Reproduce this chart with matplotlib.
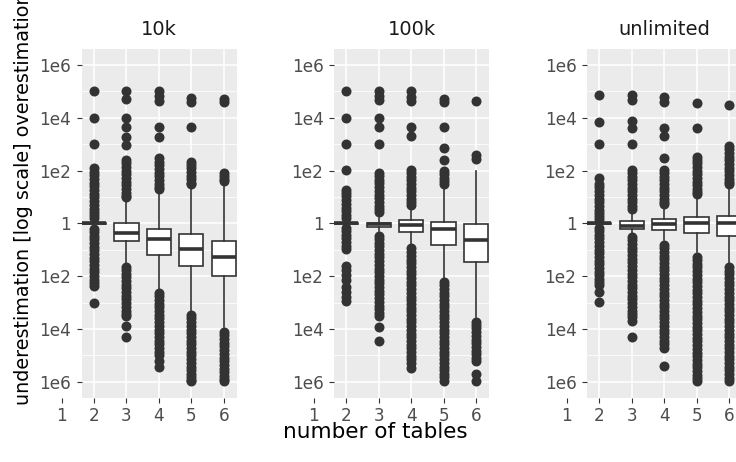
import matplotlib
matplotlib.use("Agg")
import numpy as np
import matplotlib.pyplot as plt
from matplotlib.ticker import FixedLocator, NullLocator, NullFormatter
from matplotlib.transforms import blended_transform_factory

# ---------------- data (log10 of estimate ratio) ----------------
panels = ["10k", "100k", "unlimited"]
table_counts = [2, 3, 4, 5, 6]
x_ticks = [1, 2, 3, 4, 5, 6]
y_tick_exp = [6, 4, 2, 0, -2, -4, -6]
y_tick_labels = ["1e6", "1e4", "1e2", "1", "1e2", "1e4", "1e6"]
y_minor_exp = [5, 3, 1, -1, -3, -5]

# (whislo, q1, med, q3, whishi) per table count
stats_10k = [(-0.03, -0.03, 0.0, 0.03, 0.03),
             (-1.5, -0.68, -0.38, 0.0, 0.85),
             (-2.48, -1.18, -0.6, -0.21, 1.15),
             (-3.3, -1.6, -0.97, -0.39, 1.32),
             (-3.94, -2.0, -1.27, -0.65, 1.45)]
stats_100k = [(-0.03, -0.03, 0.0, 0.03, 0.03),
              (-0.3, -0.12, -0.04, 0.03, 0.2),
              (-0.8, -0.32, -0.08, 0.14, 0.5),
              (-2.05, -0.82, -0.22, 0.07, 1.3),
              (-3.56, -1.48, -0.62, -0.04, 2.0)]
stats_unl = [(-0.03, -0.03, 0.0, 0.03, 0.03),
             (-0.35, -0.2, -0.09, 0.1, 0.35),
             (-0.62, -0.24, -0.04, 0.18, 0.55),
             (-1.08, -0.35, 0.01, 0.24, 0.95),
             (-1.5, -0.49, 0.01, 0.27, 1.3)]

fliers_10k = [
    [5.0, 4.0, 3.0, 2.1, 1.96, 1.82, 1.68, 1.54, 1.4, 1.26, 1.12, 0.98, 0.84, 0.7, 0.56, 0.42, 0.3, 0.2,
     -0.2, -0.32, -0.46, -0.6, -0.74, -0.88, -1.02, -1.16, -1.3, -1.44, -1.58, -1.72, -1.86, -2.0, -2.14,
     -2.26, -2.36, -3.0],
    [5.0, 4.72, 4.0, 3.65, 3.25, 2.98, 2.4, 2.28, 2.14, 2.0, 1.86, 1.72, 1.58, 1.44, 1.3, 1.16, 1.04, 0.98,
     -1.64, -1.76, -1.9, -2.04, -2.18, -2.32, -2.46, -2.6, -2.74, -2.88, -3.02, -3.16, -3.3, -3.42, -3.5,
     -3.87, -4.32],
    [5.0, 4.82, 4.64, 3.66, 3.28, 2.46, 2.34, 2.2, 2.06, 1.92, 1.78, 1.64, 1.5, 1.38, 1.3,
     -2.64, -2.76, -2.9, -3.04, -3.18, -3.32, -3.46, -3.6, -3.74, -3.88, -4.02, -4.16, -4.3, -4.44, -4.58,
     -4.72, -4.86, -4.98, -5.2, -5.45],
    [4.75, 4.6, 3.66, 2.34, 2.22, 2.08, 1.94, 1.8, 1.66, 1.54, 1.5,
     -3.48, -3.6, -3.74, -3.88, -4.02, -4.16, -4.3, -4.44, -4.58, -4.72, -4.86, -5.0, -5.14, -5.28,
     -5.42, -5.56, -5.7, -5.82, -5.92, -5.98],
    [4.72, 4.58, 1.9, 1.78, 1.66, 1.62,
     -4.12, -4.24, -4.38, -4.52, -4.66, -4.8, -4.94, -5.08, -5.22, -5.36, -5.5, -5.64, -5.78, -5.9, -5.98],
]
fliers_100k = [
    [5.0, 4.0, 3.0, 2.01, 1.28, 1.16, 1.02, 0.88, 0.74, 0.6, 0.46, 0.32, 0.2,
     -0.18, -0.3, -0.43, -0.57, -0.71, -0.85, -0.98,
     -1.62, -1.76, -1.95, -2.15, -2.42, -2.6, -2.8, -2.95],
    [5.0, 4.82, 4.68, 4.0, 3.66, 3.0, 1.9, 1.78, 1.65, 1.51, 1.37, 1.23, 1.09, 0.95, 0.81, 0.67, 0.55, 0.42,
     -0.48, -0.6, -0.73, -0.87, -1.01, -1.15, -1.29, -1.43, -1.57, -1.71, -1.85, -1.99, -2.13, -2.27,
     -2.41, -2.55, -2.69, -2.83, -2.97, -3.11, -3.25, -3.38, -3.5, -3.94, -4.44],
    [5.0, 4.8, 4.62, 3.66, 3.3, 2.02, 1.9, 1.77, 1.63, 1.49, 1.35, 1.21, 1.07, 0.93, 0.8, 0.7,
     -0.95, -1.09, -1.23, -1.37, -1.51, -1.65, -1.79, -1.93, -2.07, -2.21, -2.35, -2.49, -2.63, -2.77,
     -2.91, -3.05, -3.19, -3.33, -3.47, -3.61, -3.75, -3.89, -4.03, -4.17, -4.31, -4.45, -4.59, -4.73,
     -4.87, -5.01, -5.15, -5.3, -5.48],
    [4.7, 4.58, 3.66, 2.84, 2.39, 1.98, 1.86, 1.72, 1.6, 1.5,
     -2.22, -2.34, -2.48, -2.62, -2.76, -2.9, -3.04, -3.18, -3.32, -3.46, -3.6, -3.74, -3.88, -4.02,
     -4.16, -4.3, -4.44, -4.58, -4.72, -4.86, -5.0, -5.14, -5.28, -5.42, -5.56, -5.7, -5.82, -5.95],
    [4.65, 2.6, 2.45,
     -3.72, -3.84, -3.98, -4.12, -4.26, -4.4, -4.54, -4.68, -4.82, -4.96, -5.1, -5.22, -5.72, -5.98],
]
fliers_unl = [
    [4.87, 3.85, 3.0, 1.72, 1.5, 1.36, 1.22, 1.08, 0.94, 0.8, 0.66, 0.52, 0.38, 0.26, 0.18,
     -0.18, -0.29, -0.43, -0.57, -0.71, -0.85, -0.99, -1.13, -1.27, -1.41, -1.55, -1.69, -1.83, -1.97,
     -2.11, -2.22, -2.32, -2.6, -2.98],
    [4.87, 4.67, 3.87, 3.62, 3.0, 2.02, 1.9, 1.77, 1.63, 1.49, 1.35, 1.21, 1.07, 0.93, 0.79, 0.67, 0.56,
     -0.52, -0.64, -0.78, -0.92, -1.06, -1.2, -1.34, -1.48, -1.62, -1.76, -1.9, -2.04, -2.18, -2.32, -2.46,
     -2.6, -2.74, -2.88, -3.02, -3.16, -3.3, -3.44, -3.56, -3.68, -4.29],
    [4.8, 4.6, 3.6, 3.3, 2.46, 2.02, 1.9, 1.77, 1.63, 1.49, 1.35, 1.21, 1.07, 0.93, 0.8, 0.72,
     -0.82, -0.94, -1.08, -1.22, -1.36, -1.5, -1.64, -1.78, -1.92, -2.06, -2.2, -2.34, -2.48, -2.62,
     -2.76, -2.9, -3.04, -3.18, -3.32, -3.46, -3.6, -3.74, -3.88, -4.02, -4.16, -4.3, -4.44, -4.56,
     -4.7, -5.39],
    [4.54, 3.6, 2.52, 2.4, 2.28, 2.14, 2.0, 1.86, 1.72, 1.58, 1.44, 1.3, 1.18, 1.12,
     -1.27, -1.39, -1.53, -1.67, -1.81, -1.95, -2.09, -2.23, -2.37, -2.51, -2.65, -2.79, -2.93, -3.07,
     -3.21, -3.35, -3.49, -3.63, -3.77, -3.91, -4.05, -4.19, -4.33, -4.47, -4.61, -4.75, -4.89, -5.03,
     -5.17, -5.31, -5.45, -5.59, -5.73, -5.85, -5.96],
    [4.48, 2.92, 2.8, 2.67, 2.53, 2.39, 2.25, 2.11, 1.97, 1.83, 1.69, 1.58, 1.5,
     -1.67, -1.79, -1.93, -2.07, -2.21, -2.35, -2.49, -2.63, -2.77, -2.91, -3.05, -3.19, -3.33, -3.47,
     -3.61, -3.75, -3.89, -4.03, -4.17, -4.31, -4.45, -4.59, -4.73, -4.87, -5.01, -5.15, -5.29, -5.43,
     -5.57, -5.71, -5.85, -5.96],
]

all_stats = [stats_10k, stats_100k, stats_unl]
all_fliers = [fliers_10k, fliers_100k, fliers_unl]

# ---------------- style ----------------
W, H, DPI = 736, 462, 100
fig = plt.figure(figsize=(W / DPI, H / DPI), dpi=DPI, facecolor="white")

dark = "#333333"
tick_col = "#4D4D4D"
tick_fs = 12.2
panel_lefts_px = [81.7, 334.0, 587.0]
panel_w_px = 155.0
panel_top_px, panel_bot_px = 49.0, 397.7
tick_len = 3.8
xpad = 3.0

for i, name in enumerate(panels):
    left = panel_lefts_px[i] / W
    bottom = (H - panel_bot_px) / H
    ax = fig.add_axes([left, bottom, panel_w_px / W, (panel_bot_px - panel_top_px) / H])
    ax.set_facecolor("#EBEBEB")
    for s in ax.spines.values():
        s.set_visible(False)
    ax.set_yscale("log")
    ax.set_xlim(1.62, 6.4)
    ax.set_ylim(10 ** -6.6, 10 ** 6.6)

    stats = []
    for (wl, q1, med, q3, wh), fl in zip(all_stats[i], all_fliers[i]):
        stats.append(dict(whislo=10 ** wl, q1=10 ** q1, med=10 ** med, q3=10 ** q3,
                          whishi=10 ** wh, fliers=10.0 ** np.array(fl)))
    ax.bxp(stats, positions=table_counts, widths=0.75, patch_artist=True, showcaps=False,
           manage_ticks=False,
           boxprops=dict(facecolor="white", edgecolor=dark, linewidth=1.2),
           medianprops=dict(color=dark, linewidth=2.6, solid_capstyle="butt"),
           whiskerprops=dict(color=dark, linewidth=1.2),
           flierprops=dict(marker="o", markerfacecolor=dark, markeredgecolor="none",
                           markersize=7.2, linestyle="none"))

    ax.yaxis.set_major_locator(FixedLocator([10.0 ** e for e in y_tick_exp]))
    ax.set_yticklabels(y_tick_labels)
    ax.yaxis.set_minor_locator(FixedLocator([10.0 ** e for e in y_minor_exp]))
    ax.yaxis.set_minor_formatter(NullFormatter())
    ax.xaxis.set_major_locator(FixedLocator(table_counts))
    ax.set_xticklabels([str(t) for t in table_counts])
    ax.xaxis.set_minor_locator(NullLocator())

    ax.set_axisbelow(True)
    ax.grid(which="major", color="white", linewidth=1.1)
    ax.grid(which="minor", axis="y", color="white", linewidth=0.55)

    ax.tick_params(which="major", length=tick_len, width=0.8, color=dark,
                   labelcolor=tick_col, labelsize=tick_fs)
    ax.tick_params(axis="x", which="major", pad=xpad)
    ax.tick_params(axis="y", which="major", pad=3.8)
    ax.tick_params(which="minor", length=0)

    # ticks that lie outside the panel range (x = 1)
    trans = blended_transform_factory(ax.transData, ax.transAxes)
    ax_h_px = panel_bot_px - panel_top_px
    frac = tick_len / 72 * DPI / ax_h_px
    for xt in x_ticks:
        if xt < 1.62:
            ax.plot([xt, xt], [0, -frac], transform=trans, color=dark, lw=0.8,
                    clip_on=False, solid_capstyle="butt")
            ax.annotate(str(xt), xy=(xt, 0), xycoords=trans,
                        xytext=(0, -(tick_len + xpad)), textcoords="offset points",
                        ha="center", va="top", fontsize=tick_fs, color=tick_col,
                        annotation_clip=False)

    # strip title
    cx = (panel_lefts_px[i] + panel_w_px / 2) / W
    fig.text(cx, (H - 35) / H, name, ha="center", va="baseline", fontsize=14, color="#1A1A1A")

fig.text(375 / W, (H - 438) / H, "number of tables", ha="center", va="baseline",
         fontsize=15.5, color="black")
fig.text(24 / W, (H - 405) / H, "underestimation [log scale] overestimation", rotation=90,
         ha="center", va="bottom", fontsize=13.8, color="black")

fig.savefig("out.png", dpi=DPI, facecolor="white")
